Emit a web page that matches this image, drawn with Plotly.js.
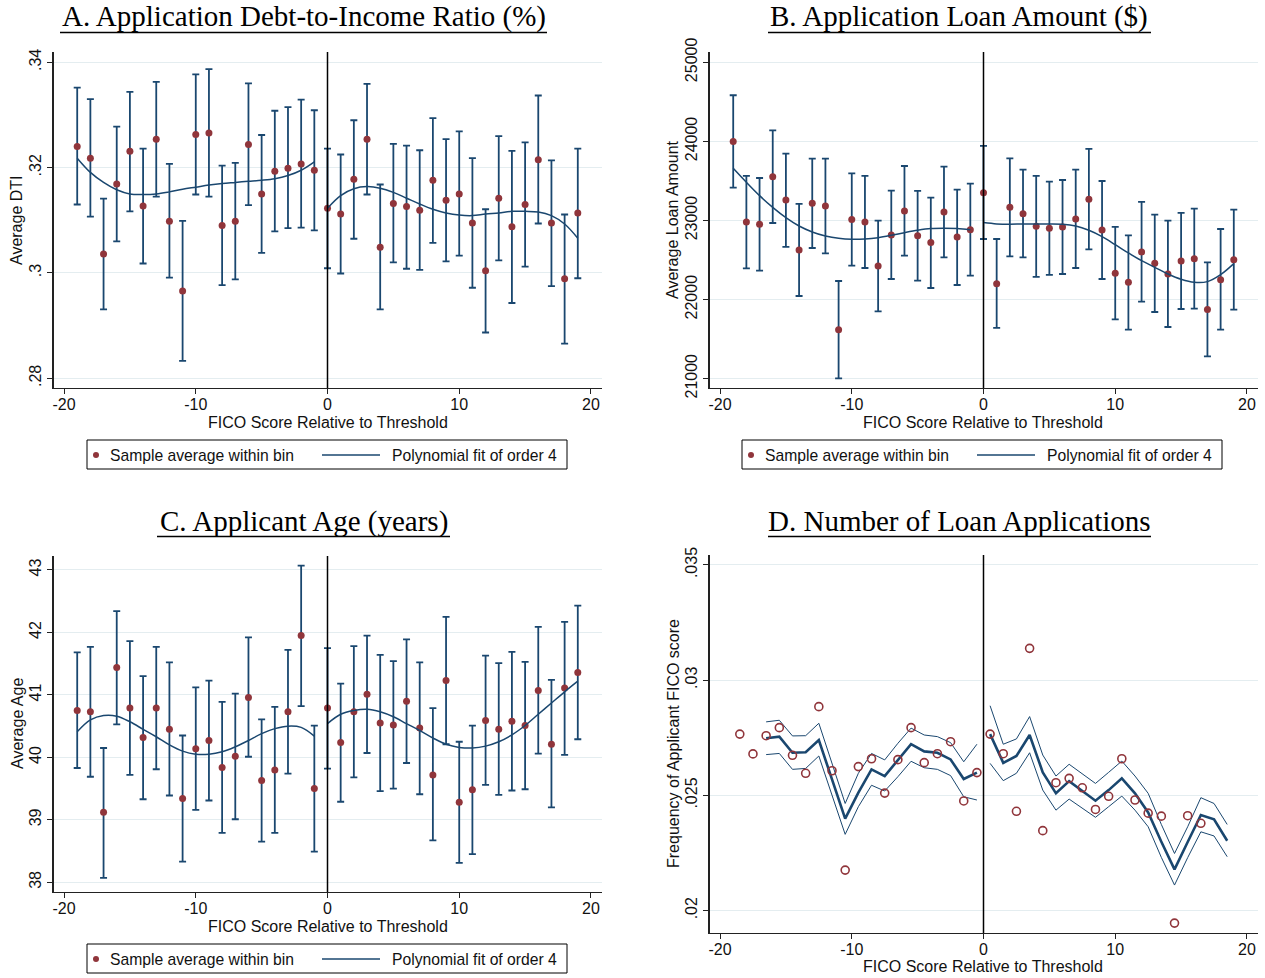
<!DOCTYPE html>
<html><head><meta charset="utf-8">
<script src="https://cdn.plot.ly/plotly-3.0.1.min.js"></script>
<style>html,body{margin:0;padding:0;background:#fff}#chart{width:1265px;height:978px}</style>
</head><body><div id="chart"></div><script>
// ---------- data ----------
const binsLeft  = [-19,-18,-17,-16,-15,-14,-13,-12,-11,-10,-9,-8,-7,-6,-5,-4,-3,-2,-1];
const binsRight = [0,1,2,3,4,5,6,7,8,9,10,11,12,13,14,15,16,17,18,19];

// Panel A: debt-to-income ratio
const dtiMeanL = [0.3240,0.3218,0.3036,0.3169,0.3231,0.3127,0.3254,0.3098,0.2966,0.3263,0.3266,0.3090,0.3098,0.3244,0.3150,0.3193,0.3199,0.3207,0.3195];
const dtiHighL = [0.3352,0.3330,0.3141,0.3278,0.3344,0.3236,0.3363,0.3207,0.3099,0.3377,0.3387,0.3204,0.3209,0.3360,0.3262,0.3308,0.3315,0.3329,0.3309];
const dtiLowL  = [0.3130,0.3107,0.2931,0.3060,0.3117,0.3018,0.3145,0.2991,0.2833,0.3149,0.3145,0.2977,0.2988,0.3129,0.3038,0.3079,0.3085,0.3086,0.3081];
const dtiFitL  = [0.3218,0.3191,0.3172,0.3158,0.3150,0.3149,0.3150,0.3154,0.3159,0.3163,0.3167,0.3170,0.3172,0.3174,0.3176,0.3179,0.3185,0.3195,0.3211];
const dtiMeanR = [0.3123,0.3112,0.3178,0.3254,0.3049,0.3132,0.3126,0.3119,0.3176,0.3138,0.3150,0.3095,0.3004,0.3142,0.3088,0.3130,0.3215,0.3095,0.2989,0.3114];
const dtiHighR = [0.3236,0.3225,0.3290,0.3359,0.3168,0.3245,0.3242,0.3233,0.3294,0.3254,0.3269,0.3218,0.3121,0.3260,0.3232,0.3248,0.3337,0.3214,0.3111,0.3236];
const dtiLowR  = [0.3009,0.2999,0.3065,0.3149,0.2931,0.3020,0.3008,0.3006,0.3057,0.3022,0.3033,0.2972,0.2887,0.3024,0.2943,0.3012,0.3094,0.2975,0.2866,0.2990];
const dtiFitR  = [0.3123,0.3147,0.3160,0.3164,0.3161,0.3153,0.3142,0.3131,0.3121,0.3114,0.3110,0.3109,0.3112,0.3114,0.3117,0.3117,0.3116,0.3109,0.3093,0.3066];

// Panel B: loan amount
const loanMeanL = [23997,22981,22952,23554,23259,22627,23217,23183,21620,23011,22981,22425,22817,23120,22808,22720,23107,22791,22884];
const loanHighL = [24583,23563,23537,24140,23845,23209,23782,23782,22235,23596,23563,22998,23377,23689,23373,23289,23681,23390,23466];
const loanLowL  = [23415,22395,22366,22968,22665,22045,22652,22585,21004,22429,22399,21851,22260,22555,22239,22146,22534,22184,22302];
const loanFitL  = [23660,23483,23314,23166,23036,22930,22855,22804,22774,22762,22766,22783,22812,22846,22876,22897,22901,22897,22884];
const loanMeanR = [23352,22201,23166,23086,22926,22901,22918,23019,23268,22880,22332,22218,22602,22458,22323,22488,22517,21873,22252,22505];
const loanHighR = [23942,22766,23786,23643,23563,23491,23512,23643,23904,23499,22918,22812,23234,23074,22998,23095,23150,22471,22892,23137];
const loanLowR  = [22766,21641,22547,22534,22286,22311,22323,22399,22635,22260,21750,21620,21974,21843,21653,21881,21885,21282,21620,21873];
const loanFitR  = [22973,22956,22952,22956,22956,22956,22952,22930,22876,22796,22694,22589,22492,22408,22323,22256,22218,22227,22315,22454];

// Panel C: applicant age
const ageMeanL = [40.75,40.73,39.12,41.44,40.79,40.32,40.79,40.45,39.34,40.14,40.27,39.84,40.02,40.96,39.63,39.80,40.73,41.95,39.50];
const ageHighL = [41.68,41.77,40.15,42.34,41.86,41.30,41.77,41.52,40.35,41.12,41.23,40.89,41.02,41.92,40.61,40.81,41.72,43.07,40.51];
const ageLowL  = [39.83,39.69,38.07,40.53,39.72,39.33,39.81,39.39,38.33,39.16,39.31,38.79,39.01,40.01,38.65,38.79,39.74,40.82,38.49];
const ageFitL  = [40.41,40.60,40.67,40.66,40.57,40.45,40.33,40.20,40.10,40.05,40.05,40.09,40.17,40.27,40.38,40.46,40.50,40.48,40.34];
const ageMeanR = [40.79,40.24,40.73,41.01,40.55,40.52,40.90,40.47,39.72,41.23,39.28,39.48,40.59,40.45,40.58,40.51,41.07,40.21,41.11,41.36];
const ageHighR = [41.75,41.18,41.78,41.95,41.64,41.54,41.89,41.52,40.79,42.25,40.25,40.51,41.63,41.51,41.69,41.53,42.09,41.24,42.17,42.43];
const ageLowR  = [39.82,39.29,39.68,40.07,39.46,39.50,39.91,39.41,38.67,40.21,38.31,38.45,39.56,39.40,39.47,39.49,40.06,39.20,40.04,40.29];
const ageFitR  = [40.54,40.69,40.75,40.77,40.73,40.65,40.54,40.43,40.31,40.21,40.16,40.15,40.18,40.25,40.36,40.51,40.69,40.87,41.05,41.22];

// Panel D: frequency of applicant FICO score
const freqBinsL = [-18.5,-17.5,-16.5,-15.5,-14.5,-13.5,-12.5,-11.5,-10.5,-9.5,-8.5,-7.5,-6.5,-5.5,-4.5,-3.5,-2.5,-1.5,-0.5];
const freqL     = [0.02766,0.02680,0.02759,0.02794,0.02674,0.02596,0.02885,0.02607,0.02176,0.02625,0.02659,0.02510,0.02655,0.02794,0.02642,0.02681,0.02733,0.02476,0.02599];
const fitBinsL  = [-16.5,-15.5,-14.5,-13.5,-12.5,-11.5,-10.5,-9.5,-8.5,-7.5,-6.5,-5.5,-4.5,-3.5,-2.5,-1.5,-0.5];
const freqFitL  = [0.02748,0.02755,0.02685,0.02687,0.02740,0.02574,0.02399,0.02512,0.02613,0.02584,0.02654,0.02722,0.02691,0.02685,0.02656,0.02571,0.02599];
const freqHiL   = [0.02819,0.02826,0.02758,0.02759,0.02813,0.02639,0.02465,0.02596,0.02682,0.02654,0.02726,0.02792,0.02762,0.02755,0.02729,0.02646,0.02722];
const freqLoL   = [0.02677,0.02682,0.02613,0.02617,0.02671,0.02502,0.02331,0.02451,0.02544,0.02519,0.02581,0.02648,0.02620,0.02613,0.02586,0.02494,0.02480];
const freqBinsR = [0.5,1.5,2.5,3.5,4.5,5.5,6.5,7.5,8.5,9.5,10.5,11.5,12.5,13.5,14.5,15.5,16.5];
const freqR     = [0.02766,0.02681,0.02431,0.03138,0.02347,0.02555,0.02574,0.02533,0.02439,0.02496,0.02659,0.02480,0.02423,0.02410,0.01946,0.02412,0.02379];
const fitBinsR  = [0.5,1.5,2.5,3.5,4.5,5.5,6.5,7.5,8.5,9.5,10.5,11.5,12.5,13.5,14.5,15.5,16.5,17.5,18.5];
const freqFitR  = [0.02766,0.02641,0.02671,0.02762,0.02600,0.02509,0.02562,0.02520,0.02477,0.02523,0.02574,0.02509,0.02426,0.02299,0.02179,0.02298,0.02415,0.02396,0.02303];
const freqHiR   = [0.02889,0.02722,0.02745,0.02842,0.02675,0.02584,0.02635,0.02594,0.02552,0.02600,0.02649,0.02584,0.02509,0.02374,0.02248,0.02364,0.02490,0.02465,0.02374];
const freqLoR   = [0.02639,0.02564,0.02596,0.02685,0.02523,0.02436,0.02484,0.02444,0.02405,0.02451,0.02497,0.02436,0.02364,0.02231,0.02111,0.02230,0.02342,0.02324,0.02234];

// tick labels
const xTickVals = [-20,-10,0,10,20];
const xTickText = ['-20','-10','0','10','20'];
const dtiTickVals = [0.28,0.30,0.32,0.34];
const dtiTickText = ['.28','.3','.32','.34'];
const loanTickVals = [21000,22000,23000,24000,25000];
const loanTickText = ['21000','22000','23000','24000','25000'];
const ageTickVals = [38,39,40,41,42,43];
const ageTickText = ['38','39','40','41','42','43'];
const freqTickVals = [0.02,0.025,0.03,0.035];
const freqTickText = ['.02','.025','.03','.035'];
const threshold = 0;

// ---------- style ----------
const NAVY = '#1a476f', RED = '#90353b', AXC = '#222';
const SANS = 'Liberation Sans, Arial, sans-serif';
const SERIF = 'Liberation Serif, Times New Roman, serif';
const W = 1265, H = 978;
const px = v => v / W, py = v => 1 - v / H;

function ciTrace(x, mean, lo, hi, xa, ya) {
  return {type:'scatter', mode:'markers', x:x, y:mean, xaxis:xa, yaxis:ya,
    marker:{color:RED, size:7},
    error_y:{type:'data', symmetric:false,
      array: hi.map((h,i)=>h-mean[i]), arrayminus: mean.map((m,i)=>m-lo[i]),
      color:NAVY, thickness:1.8, width:3.5},
    showlegend:false, hoverinfo:'x+y'};
}
function fitTrace(x, y, xa, ya) {
  return {type:'scatter', mode:'lines', x:x, y:y, xaxis:xa, yaxis:ya,
    line:{color:NAVY, width:1.5, shape:'spline', smoothing:1}, showlegend:false};
}
function lineTrace(x, y, xa, ya, w) {
  return {type:'scatter', mode:'lines', x:x, y:y, xaxis:xa, yaxis:ya,
    line:{color:NAVY, width:w}, showlegend:false};
}

const traces = [
  ciTrace(binsLeft, dtiMeanL, dtiLowL, dtiHighL, 'x', 'y'),
  ciTrace(binsRight, dtiMeanR, dtiLowR, dtiHighR, 'x', 'y'),
  fitTrace(binsLeft, dtiFitL, 'x', 'y'),
  fitTrace(binsRight, dtiFitR, 'x', 'y'),
  ciTrace(binsLeft, loanMeanL, loanLowL, loanHighL, 'x2', 'y2'),
  ciTrace(binsRight, loanMeanR, loanLowR, loanHighR, 'x2', 'y2'),
  fitTrace(binsLeft, loanFitL, 'x2', 'y2'),
  fitTrace(binsRight, loanFitR, 'x2', 'y2'),
  ciTrace(binsLeft, ageMeanL, ageLowL, ageHighL, 'x3', 'y3'),
  ciTrace(binsRight, ageMeanR, ageLowR, ageHighR, 'x3', 'y3'),
  fitTrace(binsLeft, ageFitL, 'x3', 'y3'),
  fitTrace(binsRight, ageFitR, 'x3', 'y3'),
  lineTrace(fitBinsL, freqHiL, 'x4', 'y4', 1),
  lineTrace(fitBinsL, freqLoL, 'x4', 'y4', 1),
  lineTrace(fitBinsL, freqFitL, 'x4', 'y4', 2.6),
  lineTrace(fitBinsR, freqHiR, 'x4', 'y4', 1),
  lineTrace(fitBinsR, freqLoR, 'x4', 'y4', 1),
  lineTrace(fitBinsR, freqFitR, 'x4', 'y4', 2.6),
  {type:'scatter', mode:'markers', x:freqBinsL, y:freqL, xaxis:'x4', yaxis:'y4',
   marker:{symbol:'circle-open', size:8, color:RED, line:{width:1.6, color:RED}}, showlegend:false},
  {type:'scatter', mode:'markers', x:freqBinsR, y:freqR, xaxis:'x4', yaxis:'y4',
   marker:{symbol:'circle-open', size:8, color:RED, line:{width:1.6, color:RED}}, showlegend:false}
];

const colL = [px(53.5), px(601.5)], colR = [px(709.5), px(1257.5)];
const rowTop = [py(388), py(52)], rowBotC = [py(892), py(556)], rowBotD = [py(933), py(555)];

function xAxis(domain, anchor) {
  return {domain:domain, anchor:anchor, range:[-20.8,20.8], tickvals:xTickVals, ticktext:xTickText,
    showgrid:false, zeroline:false, showline:true, linecolor:AXC, linewidth:1.3,
    ticks:'outside', ticklen:5, tickcolor:AXC, tickwidth:1, ticklabelstandoff:-4,
    tickfont:{family:SANS, size:16, color:'#111'}, fixedrange:true};
}
function yAxis(domain, anchor, range, vals, text) {
  return {domain:domain, anchor:anchor, range:range, tickvals:vals, ticktext:text, tickangle:-90,
    showgrid:true, gridcolor:'#e4edf0', gridwidth:1, zeroline:false, showline:true, linecolor:AXC, linewidth:1.3,
    ticks:'outside', ticklen:5, tickcolor:AXC, tickwidth:1,
    tickfont:{family:SANS, size:16, color:'#111'}, fixedrange:true};
}

const ann = [];
const shapes = [];
function title(text, cx, cy, x0, x1) {
  ann.push({text:text, x:px(cx), y:py(cy), xref:'paper', yref:'paper', xanchor:'center', yanchor:'middle',
    showarrow:false, font:{family:SERIF, size:29, color:'#000'}});
  shapes.push({type:'line', xref:'paper', yref:'paper', x0:px(x0), x1:px(x1), y0:py(cy+15.5), y1:py(cy+15.5),
    line:{color:'#000', width:1.5}});
}
function axTitle(text, cx, cy, angle) {
  ann.push({text:text, x:px(cx), y:py(cy), xref:'paper', yref:'paper', xanchor:'center', yanchor:'middle',
    textangle:angle, showarrow:false, font:{family:SANS, size:16, color:'#111'}});
}
function legendBox(x0, y0) {
  const yc = y0 + 15;
  shapes.push({type:'rect', xref:'paper', yref:'paper', x0:px(x0), x1:px(x0+480), y0:py(y0+29), y1:py(y0),
    line:{color:'#000', width:1}, fillcolor:'rgba(0,0,0,0)'});
  shapes.push({type:'circle', xref:'paper', yref:'paper', x0:px(x0+6), x1:px(x0+12), y0:py(yc+3), y1:py(yc-3),
    line:{width:0}, fillcolor:RED});
  shapes.push({type:'line', xref:'paper', yref:'paper', x0:px(x0+235), x1:px(x0+293), y0:py(yc), y1:py(yc),
    line:{color:NAVY, width:1.5}});
  ann.push({text:'Sample average within bin', x:px(x0+21), y:py(yc), xref:'paper', yref:'paper',
    xanchor:'left', yanchor:'middle', showarrow:false, font:{family:SANS, size:15.7, color:'#111'}});
  ann.push({text:'Polynomial fit of order 4', x:px(x0+303), y:py(yc), xref:'paper', yref:'paper',
    xanchor:'left', yanchor:'middle', showarrow:false, font:{family:SANS, size:15.7, color:'#111'}});
}
function vline(xa, ya) {
  shapes.push({type:'line', xref:xa, yref:ya + ' domain', x0:threshold, x1:threshold, y0:0, y1:1,
    line:{color:'#000', width:1.5}});
}

title('A. Application Debt-to-Income Ratio (%)', 303.5, 17, 60, 547);
title('B. Application Loan Amount ($)', 959.5, 17, 768, 1151);
title('C. Applicant Age (years)', 303.5, 521, 157, 450);
title('D. Number of Loan Applications', 959.5, 521, 768, 1151);

axTitle('Average DTI', 17, 220, -90);
axTitle('Average Loan Amount', 673, 220, -90);
axTitle('Average Age', 17, 724, -90);
axTitle('Frequency of Applicant FICO score', 673, 744, -90);
axTitle('FICO Score Relative to Threshold', 327.5, 422, 0);
axTitle('FICO Score Relative to Threshold', 983.5, 422, 0);
axTitle('FICO Score Relative to Threshold', 327.5, 926, 0);
axTitle('FICO Score Relative to Threshold', 983.5, 966, 0);

legendBox(87, 440);
legendBox(742, 440);
legendBox(87, 944);

vline('x', 'y'); vline('x2', 'y2'); vline('x3', 'y3'); vline('x4', 'y4');

const layout = {
  width:W, height:H, margin:{l:0, r:0, t:0, b:0}, paper_bgcolor:'#fff', plot_bgcolor:'#fff',
  showlegend:false, font:{family:SANS, size:16, color:'#111'},
  xaxis: xAxis(colL, 'y'),
  yaxis: yAxis(rowTop, 'x', [0.27816, 0.34196], dtiTickVals, dtiTickText),
  xaxis2: xAxis(colR, 'y2'),
  yaxis2: yAxis(rowTop, 'x2', [20882, 25130], loanTickVals, loanTickText),
  xaxis3: xAxis(colL, 'y3'),
  yaxis3: yAxis(rowBotC, 'x3', [37.845, 43.224], ageTickVals, ageTickText),
  xaxis4: xAxis(colR, 'y4'),
  yaxis4: yAxis(rowBotD, 'x4', [0.01903, 0.03543], freqTickVals, freqTickText),
  annotations: ann, shapes: shapes
};

Plotly.newPlot('chart', traces, layout, {staticPlot:true, displayModeBar:false});
</script></body></html>
